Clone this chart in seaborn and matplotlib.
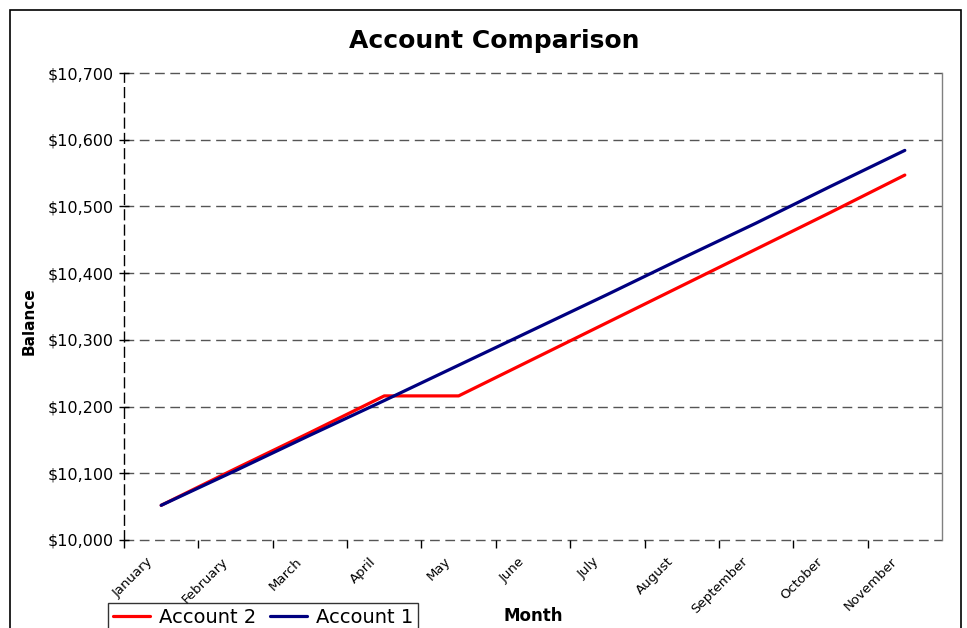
import matplotlib
matplotlib.use("Agg")
import matplotlib.pyplot as plt
import matplotlib.transforms as mtransforms
from matplotlib.patches import Rectangle
import seaborn as sns
import pandas as pd
import numpy as np

months = ["January", "February", "March", "April", "May", "June", "July",
          "August", "September", "October", "November"]
account_2 = [10052, 10107, 10161, 10216, 10216, 10271, 10326, 10381, 10436, 10491, 10547]
account_1 = [10052, 10104, 10157, 10209, 10262, 10315, 10368, 10422, 10475, 10530, 10584]
y_ticks = [10000, 10100, 10200, 10300, 10400, 10500, 10600, 10700]

df = pd.DataFrame({
    "Month": months * 2,
    "Balance": account_2 + account_1,
    "Series": ["Account 2"] * len(months) + ["Account 1"] * len(months),
})
df["pos"] = np.tile(np.arange(len(months)), 2)

sns.set_style("white")
plt.rcParams['font.family'] = ['DejaVu Sans']
plt.rcParams['text.color'] = 'black'
plt.rcParams['axes.labelcolor'] = 'black'
plt.rcParams['xtick.color'] = 'black'
plt.rcParams['ytick.color'] = 'black'

W, H = 967, 628
fig = plt.figure(figsize=(W / 100, H / 100), dpi=100)
ax = fig.add_axes([124 / W, 1 - 540 / H, (942 - 124) / W, (540 - 73) / H])

sns.lineplot(data=df, x="pos", y="Balance", hue="Series",
             hue_order=["Account 2", "Account 1"],
             palette={"Account 2": "#FF0000", "Account 1": "#000080"},
             linewidth=2.3, sort=False, ax=ax, legend=True)

ax.set_xlim(-0.5, len(months) - 0.5)
ax.set_ylim(10000, 10700)
ax.set_yticks(y_ticks)
ax.set_yticklabels([f"${v:,}" for v in y_ticks], fontsize=11.5, color="black")

# gridlines
for v in y_ticks:
    ax.axhline(v, color="#555555", lw=1.0, ls=(0, (7, 4)), zorder=0.5, clip_on=False)

# spines
for s in ["top", "bottom"]:
    ax.spines[s].set_visible(False)
ax.spines["left"].set_color("black")
ax.spines["left"].set_linewidth(1.0)
ax.spines["left"].set_linestyle((0, (7, 4)))
ax.spines["right"].set_color("#808080")
ax.spines["right"].set_linewidth(1.0)

ax.tick_params(axis="y", direction="inout", length=7, width=1, color="black", pad=4,
               left=True)

# x ticks: marks at category boundaries, labels at category centres
ax.set_xticks(np.arange(len(months)))
ax.set_xticklabels(months, fontsize=9.5, rotation=45, ha="right", va="center",
                   rotation_mode="anchor", color="black")
ax.set_xticks(np.arange(len(months)) - 0.5, minor=True)
ax.tick_params(axis="x", which="major", length=0, pad=14)
ax.tick_params(axis="x", which="minor", direction="out", length=6, width=1,
               color="black", bottom=True)
offset = mtransforms.ScaledTranslation(-0.10, 0, fig.dpi_scale_trans)
for lbl in ax.get_xticklabels():
    lbl.set_transform(lbl.get_transform() + offset)

ax.set_xlabel("Month", fontsize=12, fontweight="bold", color="black")
ax.xaxis.set_label_coords(0.5, (540 - 607) / 467)
ax.set_ylabel("Balance", fontsize=11, fontweight="bold", color="black")
ax.yaxis.set_label_coords((37 - 124) / 818, (540 - 321) / 467)

fig.text(494 / W, 1 - 41 / H, "Account Comparison", fontsize=18,
         fontweight="bold", ha="center", va="center", color="black")

# legend
handles, labels = ax.get_legend_handles_labels()
leg = ax.legend(handles, labels, ncol=2, loc="upper left",
                bbox_to_anchor=(108 / W, 1 - 603 / H), bbox_transform=fig.transFigure,
                fontsize=14, frameon=True, fancybox=False, edgecolor="black",
                handlelength=1.9, handletextpad=0.45, columnspacing=0.75,
                borderpad=0.25, borderaxespad=0)
leg.get_frame().set_linewidth(1.0)
for line in leg.get_lines():
    line.set_linewidth(2.3)
for t in leg.get_texts():
    t.set_color("black")

# outer chart border
fig.patches.append(Rectangle((10 / W, -0.1), (961 - 10) / W, 1.1 - 10 / H,
                             transform=fig.transFigure, fill=False,
                             edgecolor="black", lw=1.2))

fig.savefig("out.png", dpi=100)
